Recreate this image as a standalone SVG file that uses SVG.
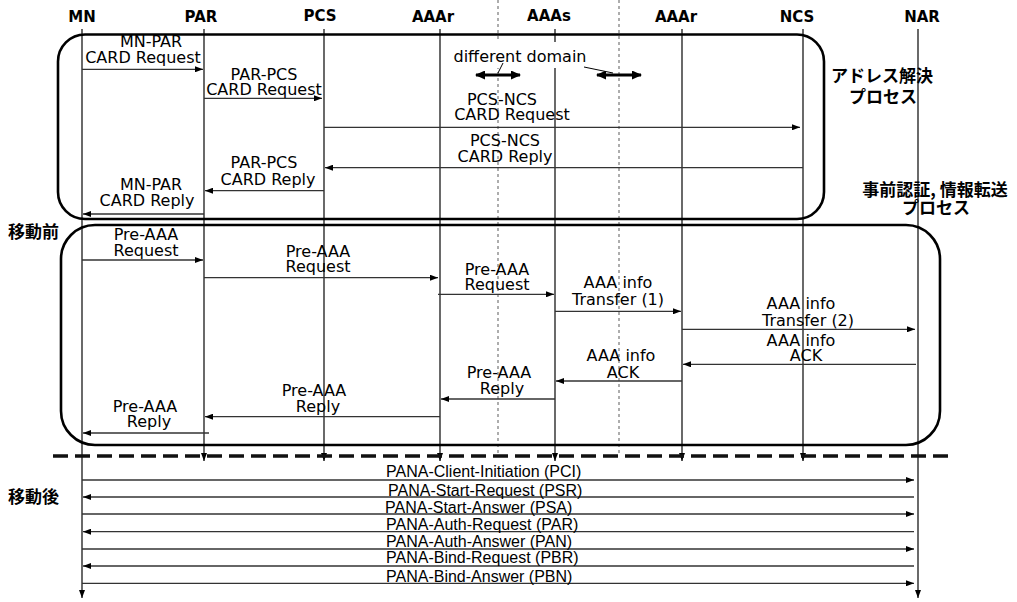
<svg xmlns="http://www.w3.org/2000/svg" width="1017" height="602" viewBox="0 0 1017 602">
<style>
.hdr{font-family:"DejaVu Sans",Verdana,sans-serif;font-weight:bold;font-size:15px;text-anchor:middle;fill:#000}
.lbl{font-family:"DejaVu Sans",Verdana,sans-serif;font-size:16px;text-anchor:middle;fill:#000}
.pana{font-family:"Liberation Sans",Arial,sans-serif;font-size:16px;fill:#000}
.jp{font-family:"Noto Sans CJK JP","Noto Sans",sans-serif;font-weight:bold;font-size:17px;fill:#000}
.life{stroke:#1a1a1a;stroke-width:1.3;fill:none}
.dom{stroke:#777;stroke-width:1.2;stroke-dasharray:3 3;fill:none}
.box{stroke:#000;stroke-width:2.6;fill:none}
.msg{stroke:#333;stroke-width:1.3;fill:none;marker-end:url(#ah)}
.dbl{stroke:#000;stroke-width:3;fill:none;marker-start:url(#dh);marker-end:url(#dh)}
.lead{stroke:#000;stroke-width:1;fill:none}
</style>
<defs>
<marker id="ah" markerUnits="userSpaceOnUse" markerWidth="8" markerHeight="6" refX="8" refY="3" orient="auto">
<path d="M0,0 L8,3 L0,6 z" fill="#000"/>
</marker>
<marker id="dh" markerUnits="userSpaceOnUse" markerWidth="10" markerHeight="9" refX="9" refY="4.5" orient="auto-start-reverse">
<path d="M0,0 L10,4.5 L0,9 z" fill="#000"/>
</marker>
</defs>
<rect width="1017" height="602" fill="#fff"/>

<g id="lifelines">
<line class="life" x1="82" y1="29" x2="82" y2="598" marker-end="url(#ah)"/>
<line class="life" x1="204" y1="29" x2="204" y2="461" marker-end="url(#ah)"/>
<line class="life" x1="324" y1="29" x2="324" y2="461" marker-end="url(#ah)"/>
<line class="life" x1="440" y1="29" x2="440" y2="461" marker-end="url(#ah)" stroke="#444"/>
<line class="life" x1="555" y1="29" x2="555" y2="461" marker-end="url(#ah)"/>
<line class="life" x1="682" y1="29" x2="682" y2="461" marker-end="url(#ah)"/>
<line class="life" x1="803" y1="29" x2="803" y2="461" marker-end="url(#ah)"/>
<line class="life" x1="918" y1="29" x2="918" y2="598" marker-end="url(#ah)"/>
</g>

<g id="domain-borders">
<line class="dom" x1="498" y1="0" x2="498" y2="455"/>
<line class="dom" x1="619" y1="0" x2="619" y2="455"/>
</g>

<g id="headers">
<text class="hdr" x="82" y="22">MN</text>
<text class="hdr" x="201" y="22">PAR</text>
<text class="hdr" x="320" y="21">PCS</text>
<text class="hdr" x="433" y="22">AAAr</text>
<text class="hdr" x="549" y="21">AAAs</text>
<text class="hdr" x="676" y="22">AAAr</text>
<text class="hdr" x="797" y="22">NCS</text>
<text class="hdr" x="922" y="22">NAR</text>
</g>

<g id="box-address-resolution">
<rect class="box" x="58" y="34.5" width="766" height="184.5" rx="27" ry="27"/>
<text class="jp" x="882" y="82" text-anchor="middle">アドレス解決</text>
<text class="jp" x="883" y="103" text-anchor="middle">プロセス</text>
</g>

<g id="box-preauth">
<rect class="box" x="61" y="225" width="879" height="220" rx="34" ry="34"/>
<text class="jp" x="935" y="196" text-anchor="middle">事前認証, 情報転送</text>
<text class="jp" x="936" y="214" text-anchor="middle">プロセス</text>
</g>

<g id="phase-labels">
<text class="jp" x="8" y="238" font-size="18">移動前</text>
<text class="jp" x="8" y="503" font-size="18">移動後</text>
</g>

<g id="different-domain">
<rect x="450" y="42" width="140" height="26" fill="#fff"/>
<text class="lbl" x="520" y="62">different domain</text>
<line class="dbl" x1="476" y1="75" x2="520" y2="75"/>
<line class="dbl" x1="597" y1="75" x2="641" y2="75"/>
<line class="lead" x1="503" y1="63" x2="498" y2="73"/>
<line class="lead" x1="584" y1="67" x2="613" y2="73"/>
</g>

<g id="separator">
<line x1="53" y1="456" x2="955" y2="456" stroke="#111" stroke-width="3.5" stroke-dasharray="15 7"/>
</g>

<g id="connectors">
<line class="msg" x1="82" y1="69.3" x2="203" y2="69.3"/>
<line class="msg" x1="204" y1="98.3" x2="322" y2="98.3"/>
<line class="msg" x1="324" y1="127.3" x2="800" y2="127.3"/>
<line class="msg" x1="803" y1="167.7" x2="325" y2="167.7"/>
<line class="msg" x1="324" y1="190.7" x2="205" y2="190.7"/>
<line class="msg" x1="204" y1="214" x2="83" y2="214"/>

<line class="msg" x1="82" y1="260" x2="203" y2="260"/>
<line class="msg" x1="204" y1="277.7" x2="438" y2="277.7"/>
<line class="msg" x1="438" y1="294.3" x2="554" y2="294.3"/>
<line class="msg" x1="555" y1="311.3" x2="681" y2="311.3"/>
<line class="msg" x1="682" y1="329.3" x2="915" y2="329.3"/>
<line class="msg" x1="916" y1="364.3" x2="683" y2="364.3"/>
<line class="msg" x1="682" y1="381" x2="556" y2="381"/>
<line class="msg" x1="555" y1="399" x2="441" y2="399"/>
<line class="msg" x1="440" y1="416.7" x2="205" y2="416.7"/>
<line class="msg" x1="209" y1="433" x2="83" y2="433"/>

<line class="msg" x1="82" y1="480" x2="914" y2="480"/>
<line class="msg" x1="914" y1="497" x2="83" y2="497"/>
<line class="msg" x1="82" y1="514" x2="914" y2="514"/>
<line class="msg" x1="914" y1="531.7" x2="83" y2="531.7"/>
<line class="msg" x1="82" y1="549" x2="914" y2="549"/>
<line class="msg" x1="914" y1="566" x2="83" y2="566"/>
<line class="msg" x1="82" y1="583.3" x2="914" y2="583.3"/>
</g>

<g id="labels">
<text class="lbl" x="151" y="47">MN-PAR</text>
<text class="lbl" x="143" y="63.3">CARD Request</text>
<text class="lbl" x="264" y="80">PAR-PCS</text>
<text class="lbl" x="264" y="95">CARD Request</text>
<text class="lbl" x="502" y="105">PCS-NCS</text>
<text class="lbl" x="512" y="120">CARD Request</text>
<text class="lbl" x="505" y="146">PCS-NCS</text>
<text class="lbl" x="505" y="161.5">CARD Reply</text>
<text class="lbl" x="264" y="168.3">PAR-PCS</text>
<text class="lbl" x="268" y="185">CARD Reply</text>
<text class="lbl" x="151" y="190">MN-PAR</text>
<text class="lbl" x="147" y="205.7">CARD Reply</text>

<text class="lbl" x="146" y="240">Pre-AAA</text>
<text class="lbl" x="146" y="256">Request</text>
<text class="lbl" x="318" y="256.7">Pre-AAA</text>
<text class="lbl" x="318" y="271.7">Request</text>
<text class="lbl" x="497" y="275">Pre-AAA</text>
<text class="lbl" x="497" y="290">Request</text>
<text class="lbl" x="618" y="288">AAA info</text>
<text class="lbl" x="618" y="305">Transfer (1)</text>
<text class="lbl" x="801" y="309">AAA info</text>
<text class="lbl" x="808" y="325.5">Transfer (2)</text>
<text class="lbl" x="801" y="345.5">AAA info</text>
<text class="lbl" x="806" y="361">ACK</text>
<text class="lbl" x="621" y="361">AAA info</text>
<text class="lbl" x="623" y="378">ACK</text>
<text class="lbl" x="499" y="378">Pre-AAA</text>
<text class="lbl" x="502" y="394">Reply</text>
<text class="lbl" x="314" y="395.5">Pre-AAA</text>
<text class="lbl" x="318" y="411.5">Reply</text>
<text class="lbl" x="145" y="411.5">Pre-AAA</text>
<text class="lbl" x="149" y="426.5">Reply</text>

<text class="pana" x="386" y="477">PANA-Client-Initiation (PCI)</text>
<text class="pana" x="388" y="495.5">PANA-Start-Request (PSR)</text>
<text class="pana" x="385" y="512.5">PANA-Start-Answer (PSA)</text>
<text class="pana" x="386" y="530">PANA-Auth-Request (PAR)</text>
<text class="pana" x="386" y="547">PANA-Auth-Answer (PAN)</text>
<text class="pana" x="386" y="563">PANA-Bind-Request (PBR)</text>
<text class="pana" x="386" y="581.5">PANA-Bind-Answer (PBN)</text>
</g>
</svg>
